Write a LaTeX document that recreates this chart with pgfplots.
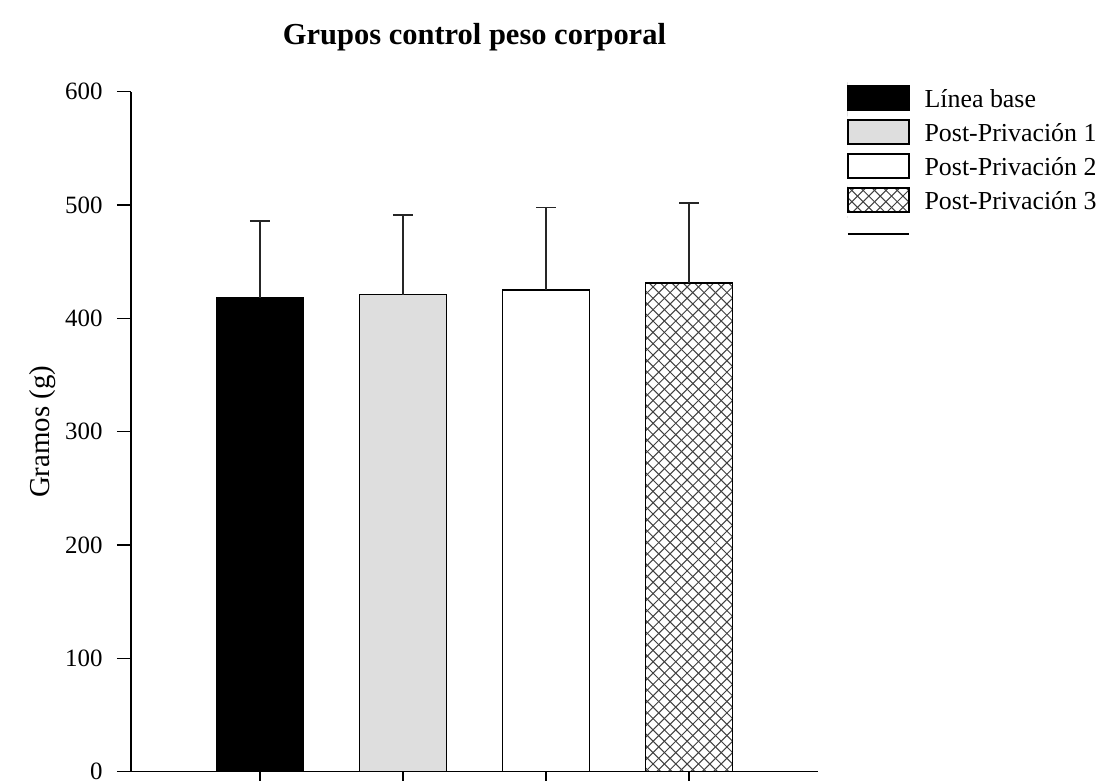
\documentclass[border=0pt]{standalone}
\usepackage{fontspec}
\setmainfont{Liberation Serif}
\usepackage{pgfplots}
\pgfplotsset{compat=1.18}
\usetikzlibrary{patterns.meta}

% diagonal cross-hatch used for the last group
\tikzdeclarepattern{
  name=diamondgrid,
  type=uncolored,
  bottom left={(-0.1pt,-0.1pt)},
  top right={(5.8pt,5.8pt)},
  tile size={(5.7pt,5.7pt)},
  code={
    \draw[line width=0.5pt] (0,0) -- (5.7pt,5.7pt);
    \draw[line width=0.5pt] (0,5.7pt) -- (5.7pt,0);
  }
}

\definecolor{lightbar}{RGB}{222,222,222}

\pgfplotsset{
  % legend swatch; the invisible path fixes the height of every legend row
  barleg/.style={legend image code/.code={
    \path[draw=none] (0bp,-8.5bp) -- (0bp,8.5bp);
    \draw[##1] (0bp,-5.25bp) rectangle (30.5bp,6.75bp);}},
  errstyle/.style={error bars/.cd, y dir=plus, y explicit,
    error bar style={line width=0.8pt, black!85},
    error mark options={rotate=90, mark size=5bp, line width=0.8pt, black!85}},
}

\begin{document}
\begin{tikzpicture}
\path[use as bounding box] (-65.5bp,-4.65bp) rectangle (486.5bp,385.85bp);
\begin{axis}[
  at={(0,0)}, anchor=south west,
  scale only axis, width=343.5bp, height=340bp,
  xmin=-0.902, xmax=3.902, ymin=0, ymax=600,
  axis x line=bottom, axis y line=left,
  axis line style={-, line width=0.8pt, black},
  xtick={0,1,2,3}, xticklabels={,,,},
  ytick={0,100,200,300,400,500,600},
  tick align=outside, major tick length=7bp,
  tick style={line width=0.8pt, black},
  /pgf/number format/assume math mode=true,
  yticklabel style={font=\fontsize{12.5}{12.5}\selectfont, inner sep=0pt, xshift=-7bp},
  ylabel={Gramos (g)},
  ylabel style={font=\fontsize{14.5}{14.5}\selectfont, at={(axis description cs:0,0.5)}, anchor=center, yshift=44bp},
  title={\textbf{Grupos control peso corporal}},
  title style={font=\fontsize{15.3}{15.3}\selectfont, at={(axis description cs:0.5,1)}, anchor=center, yshift=21.3bp},
  ybar, bar width=43.5bp, bar shift=0pt,
  legend cell align=left,
  legend style={at={(1.04221,1)}, anchor=north west, yshift=4.6bp,
    draw=none, fill=none, inner sep=0pt, outer sep=0pt,
    font=\fontsize{13}{13}\selectfont, row sep=0bp,
    nodes={inner sep=0pt},
    /tikz/every odd column/.append style={column sep=7.5bp}},
]
\addplot[ybar, draw=black, fill=black, line width=0.8pt, barleg, errstyle]
  coordinates {(0,418) +- (0,68)};
\addlegendentry{Línea base}
\addplot[ybar, draw=black, fill=lightbar, line width=0.8pt, barleg, errstyle]
  coordinates {(1,421) +- (0,70)};
\addlegendentry{Post-Privación 1}
\addplot[ybar, draw=black, fill=white, line width=0.8pt, barleg, errstyle]
  coordinates {(2,425) +- (0,73)};
\addlegendentry{Post-Privación 2}
\addplot[ybar, draw=black, pattern=diamondgrid, pattern color=black!75, line width=0.8pt, barleg, errstyle]
  coordinates {(3,431) +- (0,71)};
\addlegendentry{Post-Privación 3}
\addlegendimage{legend image code/.code={
  \path[draw=none] (0bp,-8.5bp) -- (0bp,8.5bp);
  \draw[black, line width=0.8pt] (0bp,0.75bp) -- (30.5bp,0.75bp);}}
\addlegendentry{}
\end{axis}
\end{tikzpicture}
\end{document}
